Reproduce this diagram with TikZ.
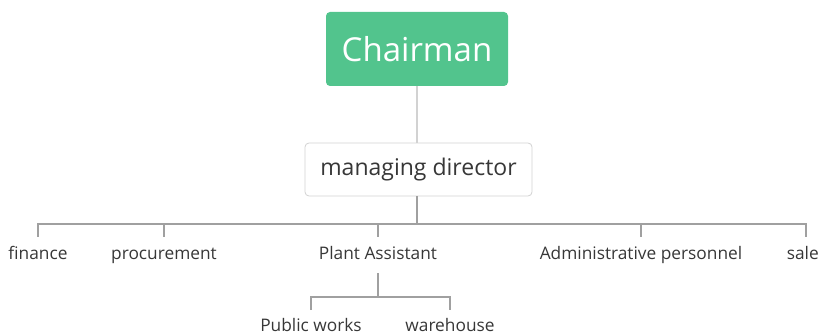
\documentclass[tikz,border=0pt]{standalone}
\usepackage{fontspec}
\setmainfont{Open Sans}
\definecolor{chairgreen}{RGB}{82,196,141}
\definecolor{linegray}{RGB}{160,160,160}
\definecolor{boxgray}{RGB}{210,210,210}
\definecolor{txtgray}{RGB}{55,55,55}
\begin{document}
\begin{tikzpicture}[x=1pt,y=-1pt,
  topbox/.style={fill=chairgreen,rounded corners=4pt,minimum width=182pt,minimum height=74pt,text=white,font=\fontsize{33}{36}\selectfont,inner sep=0pt},
  mdbox/.style={draw=boxgray,fill=white,rounded corners=4pt,minimum width=227pt,minimum height=53pt,text=txtgray,font=\fontsize{23}{26}\selectfont,inner sep=0pt,line width=0.8pt},
  leaf/.style={text=txtgray,font=\fontsize{17.3}{20}\selectfont,text height=11pt,text depth=3pt,inner xsep=0pt,inner ysep=11pt},
  conn/.style={draw=linegray,line width=1.2pt},
  conn2/.style={draw=boxgray,line width=1.2pt}]
\useasboundingbox (0,0) rectangle (819,334);
\node[topbox] (ch) at (417,49) {Chairman};
\node[mdbox] (md) at (418.5,169.5) {\raisebox{-2pt}{managing director}};
\coordinate (bus) at (417,224);
\node[leaf] (fin) at (38,255) {finance};
\node[leaf] (pro) at (164,255) {procurement};
\node[leaf] (pa) at (378,255) {Plant Assistant};
\node[leaf] (adm) at (641,255) {Administrative personnel};
\node[leaf,anchor=north east] (sale) at (819,237) {sale};
\coordinate (saletick) at (806,237);
\coordinate (pabus) at (378,297);
\node[leaf] (pw) at (311,327) {Public works};
\node[leaf] (wh) at (450,327) {warehouse};
\coordinate (pwtick) at (311,310);
\coordinate (whtick) at (450,310);
\draw[conn2] (ch.south) -- (ch.south |- md.north);
\draw[conn] (md.south -| bus) -- (bus);
\draw[conn] (fin.north) -- (fin.north |- bus) -- (saletick |- bus) -- (saletick);
\draw[conn] (pro.north) -- (pro.north |- bus);
\draw[conn] (pa.north) -- (pa.north |- bus);
\draw[conn] (adm.north) -- (adm.north |- bus);
\draw[conn] (pa.south) -- (pabus);
\draw[conn] (pwtick) -- (pwtick |- pabus) -- (whtick |- pabus) -- (whtick);
\end{tikzpicture}
\end{document}
